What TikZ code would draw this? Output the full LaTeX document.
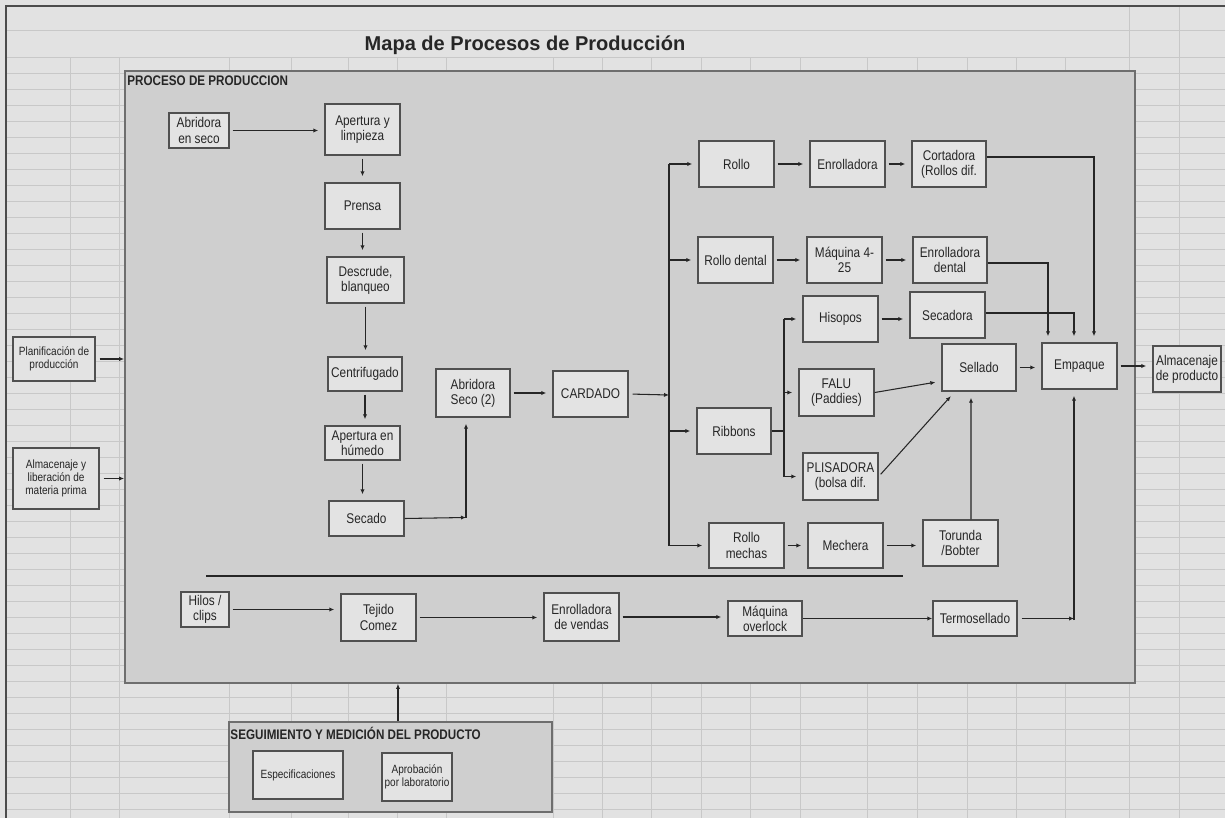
\documentclass[tikz,border=0pt]{standalone}
\usepackage{fontspec}
\setmainfont{Liberation Sans}
\newfontfamily\cond{Liberation Sans}[FakeStretch=0.84]
\usetikzlibrary{arrows.meta}
\usetikzlibrary{calc}
\definecolor{sheetbg}{HTML}{E2E2E2}
\definecolor{gridline}{HTML}{C8C8C8}
\definecolor{panelfill}{HTML}{CFCFCF}
\definecolor{panelline}{HTML}{6E6E6E}
\definecolor{boxfill}{HTML}{E3E3E3}
\definecolor{boxline}{HTML}{505050}
\definecolor{ink}{HTML}{262626}

\begin{document}
\begin{tikzpicture}[x=0.02cm, y=-0.02cm,
    box/.style={draw=boxline, fill=boxfill, line width=0.8pt, align=center, inner sep=1pt,
      text=ink, font=\cond\fontsize{8}{8.6}\selectfont},
    small/.style={font=\cond\fontsize{6.8}{7.4}\selectfont},
    sz/.style 2 args={minimum width=#1*0.02cm, minimum height=#2*0.02cm},
    panel/.style={draw=panelline, fill=panelfill, line width=1pt, inner sep=0pt},
    heading/.style={anchor=north west, inner sep=0pt, text=ink, font=\cond\bfseries\fontsize{7.9}{8.4}\selectfont},
    flow/.style={draw=ink, line width=0.6pt, -{Latex[length=1mm,width=0.85mm]}, shorten >=1.2mm},
    link/.style={draw=ink, line width=0.6pt}]

  % hoja de calculo de fondo
  \fill[sheetbg] (0,0) rectangle (1225,818);
  \useasboundingbox (0,0) rectangle (1225,818);
  \draw[gridline] (6,30) -- (1225,30);
  \draw[gridline] (6,57) -- (1225,57);
  \foreach \gy in {73,89,...,818}
    \draw[gridline] (6,\gy) -- (1225,\gy);
  \foreach \gx in {70,119,229,291,348,397,446,553,602,651,701,750,800,867,917,967,1016,1065,1129,1179}
    \draw[gridline] (\gx,57) -- (\gx,818);
  \foreach \gx in {1129,1179}
    \draw[gridline] (\gx,6) -- (\gx,57);
  \draw[draw=gray!60!black, line width=1pt] (6,818) -- (6,6) -- (1225,6);

  \node[font=\bfseries\fontsize{11.4}{13}\selectfont, text=ink] (title) at (525,45) {Mapa de Procesos de Producción};

  % paneles
  \node[panel, sz={1010}{612}] (prod) at (630,377) {};
  \node[heading] (prodlbl) at ($(prod.north west)+(3,5)$) {PROCESO DE PRODUCCION};
  \node[panel, sz={323}{90}] (seg) at (390.5,767) {};
  \node[heading] (seglbl) at ($(seg.north west)+(2,6)$) {SEGUIMIENTO Y MEDICIÓN DEL PRODUCTO};

  % entradas
  \node[box, small, sz={82}{44}] (plan) at (54,359) {Planificación de\\producción};
  \node[box, small, sz={86}{61}] (almm) at (56,478.5) {Almacenaje y\\liberación de\\materia prima};

  % linea de apertura
  \node[box, sz={60}{35}] (abr1) at (199,130.5) {Abridora\\en seco};
  \node[box, sz={75}{51}] (aper) at (362.5,129.5) {Apertura y\\limpieza};
  \node[box, sz={75}{46}] (prensa) at (362.5,206) {Prensa};
  \node[box, sz={77}{46}] (descr) at (365.5,280) {Descrude,\\blanqueo};
  \node[box, sz={74}{34}] (centr) at (365,374) {Centrifugado};
  \node[box, sz={75}{34}] (aphum) at (362.5,443) {Apertura en\\húmedo};
  \node[box, sz={75}{35}] (secado) at (366.5,518.5) {Secado};
  \node[box, sz={74}{48}] (abr2) at (473,393) {Abridora\\Seco (2)};
  \node[box, sz={75}{46}] (card) at (590.5,394) {CARDADO};

  % ramas despues del cardado
  \node[box, sz={75}{46}] (rollo) at (736.5,164) {Rollo};
  \node[box, sz={75}{46}] (enr) at (847.5,164) {Enrolladora};
  \node[box, sz={74}{46}] (cort) at (949,164) {Cortadora\\(Rollos dif.};
  \node[box, sz={75}{46}] (rden) at (735.5,260) {Rollo dental};
  \node[box, sz={75}{46}] (maq) at (844.5,260) {Máquina 4-\\25};
  \node[box, sz={74}{46}] (enrd) at (950,260) {Enrolladora\\dental};
  \node[box, sz={75}{46}] (hisop) at (840.5,319) {Hisopos};
  \node[box, sz={75}{46}] (secad) at (947.5,315) {Secadora};
  \node[box, sz={74}{47}] (sell) at (979,367.5) {Sellado};
  \node[box, sz={75}{46}] (emp) at (1079.5,366) {Empaque};
  \node[box, sz={68}{46}] (almp) at (1187,369) {Almacenaje\\de producto};
  \node[box, sz={75}{47}] (falu) at (836.5,392.5) {FALU\\(Paddies)};
  \node[box, sz={74}{46}] (ribb) at (734,431) {Ribbons};
  \node[box, sz={75}{47}] (plis) at (840.5,476.5) {PLISADORA\\(bolsa dif.};
  \node[box, sz={75}{45}] (rmech) at (746.5,545.5) {Rollo\\mechas};
  \node[box, sz={75}{45}] (mech) at (845.5,545.5) {Mechera};
  \node[box, sz={75}{46}] (tor) at (960.5,543) {Torunda\\/Bobter};

  % linea de vendas
  \node[box, sz={48}{35}] (hilos) at (205,609.5) {Hilos /\\clips};
  \node[box, sz={75}{47}] (tej) at (378.5,617.5) {Tejido\\Comez};
  \node[box, sz={75}{48}] (envend) at (581.5,617) {Enrolladora\\de vendas};
  \node[box, sz={74}{35}] (overl) at (765,618.5) {Máquina\\overlock};
  \node[box, sz={84}{35}] (termo) at (975,618.5) {Termosellado};

  % seguimiento
  \node[box, small, sz={90}{48}] (espec) at (298,775) {Especificaciones};
  \node[box, small, sz={70}{48}] (aprob) at (417,777) {Aprobación\\por laboratorio};

  \draw[link] (206,576) -- (903,576);

  % conectores
  \draw[flow, shorten >=0pt, shorten <=0.8mm] (plan.east) -- (plan.east -| prod.west);
  \draw[flow, shorten >=0pt, shorten <=0.8mm] (almm.east) -- (almm.east -| prod.west);
  \coordinate (s1) at ($(seg.north)+(7.5,0)$);
  \draw[flow, shorten >=0pt] (s1) -- (s1 |- prod.south);

  \foreach \a/\b in {abr1/aper,abr2/card,rollo/enr,enr/cort,rden/maq,maq/enrd,hisop/secad,
      rmech/mech,mech/tor,sell/emp,emp/almp,hilos/tej,tej/envend,envend/overl}
    \draw[flow, shorten <=0.6mm] (\a.east) -- (\a.east -| \b.west);
  \draw[flow, shorten >=0pt] (overl.east) -- (overl.east -| termo.west);
  \foreach \a/\b in {aper/prensa,prensa/descr,descr/centr,centr/aphum,aphum/secado}
    \draw[flow, shorten <=0.6mm] (\a.south) -- (\a.south |- \b.north);

  \coordinate (j1) at (466,517.5);
  \draw[flow, shorten >=0pt] (secado.east) -- (j1);
  \draw[flow] (j1) -- (j1 |- abr2.south);

  \coordinate (br) at (669,395);
  \draw[flow, shorten >=0pt, shorten <=0.8mm] (card.east) -- (br);
  \draw[link] (br |- rollo.west) -- (br |- rmech.west);
  \foreach \n in {rollo,rden,ribb,rmech}
    \draw[flow] (br |- \n.west) -- (\n.west);

  \coordinate (rb) at (784,431);
  \draw[link] (ribb.east) -- (rb);
  \draw[link] (rb |- hisop.west) -- (rb |- plis.west);
  \foreach \n in {hisop,falu,plis}
    \draw[flow] (rb |- \n.west) -- (\n.west);

  \draw[flow] (falu.east) -- (sell.200);
  \draw[flow, shorten <=0.6mm] (plis.east) -- (sell.225);
  \draw[flow] ($(tor.north)+(10.5,0)$) -- ($(sell.south)+(-8,0)$);

  \coordinate (lx1) at (1048,0);
  \coordinate (lx2) at (1074,0);
  \coordinate (lx3) at (1094,0);
  \draw[flow] ($(cort.east)+(0,-7)$) -| (lx3 |- emp.north);
  \draw[flow] ($(enrd.east)+(0,3)$) -| (lx1 |- emp.north);
  \draw[flow] ($(secad.east)+(0,-2)$) -| (lx2 |- emp.north);
  \coordinate (tj) at (1074,620);
  \draw[flow, shorten >=0pt, shorten <=0.8mm] (termo.east) -- (termo.east -| tj);
  \draw[flow] (tj) -- (tj |- emp.south);
\end{tikzpicture}
\end{document}
